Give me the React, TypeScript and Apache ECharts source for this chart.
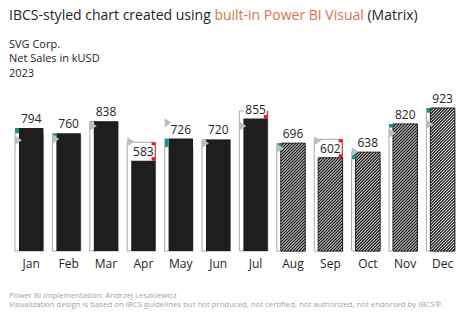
import React, { useEffect, useRef } from "react";
import * as echarts from "echarts";

const months = ["Jan", "Feb", "Mar", "Apr", "May", "Jun", "Jul", "Aug", "Sep", "Oct", "Nov", "Dec"];
const actualOrForecast = [794, 760, 838, 583, 726, 720, 855, 696, 602, 638, 820, 923];
const previousYear = [762, 745, 835, 702, 673, 718, 904, 673, 721, 594, 799, 895];
const budget = [715, 723, 807, 705, 828, 695, 807, 663, 712, 641, 760, 818];
const scenario = ["AC", "AC", "AC", "AC", "AC", "AC", "AC", "FC", "FC", "FC", "FC", "FC"];

const titleParts = ["IBCS-styled chart created using ", "built-in Power BI Visual", " (Matrix)"];
const subtitleLines = ["SVG Corp.", "Net Sales in kUSD", "2023"];
const footerLines = [
  "Power BI implementation: Andrzej Leszkiewicz",
  "Visualization design is based on IBCS guidelines but not produced, not certified, not authorized, not endorsed by IBCS\u00AE",
];

const FONT = "'Segoe UI', 'Open Sans', 'Noto Sans', sans-serif";
const DARK = "#252423";
const BAR = "#1e1e1e";
const TEAL = "#18918a";
const RED = "#e8141a";
const PY_STROKE = "#a9a9a9";
const TRI = "#b8bdc0";

export default function App() {
  const ref = useRef<HTMLDivElement>(null);

  useEffect(() => {
    if (!ref.current) return;
    const chart = echarts.init(ref.current, null, { renderer: "svg" });

    const data = months.map((m, i) => [
      i,
      actualOrForecast[i],
      previousYear[i],
      budget[i],
      scenario[i] === "FC" ? 1 : 0,
    ]);

    const renderItem = (params: any, api: any) => {
      const i = api.value(0);
      const ac = api.value(1);
      const py = api.value(2);
      const bu = api.value(3);
      const fc = api.value(4) === 1;
      const [cx, yAc] = api.coord([i, ac]);
      const y0 = api.coord([i, 0])[1];
      const yPy = api.coord([i, py])[1];
      const yBu = api.coord([i, bu])[1];
      const half = 12.2;
      const strip = 4;
      const children: any[] = [];

      children.push({
        type: "rect",
        shape: { x: cx - half - strip, y: yPy, width: 2 * half + strip, height: y0 - yPy },
        style: { fill: "#ffffff", stroke: PY_STROKE, lineWidth: 1 },
      });

      const ax0 = cx - half;
      const ax1 = cx + half;
      if (!fc) {
        children.push({
          type: "rect",
          shape: { x: ax0, y: yAc, width: ax1 - ax0, height: y0 - yAc },
          style: { fill: BAR },
        });
      } else {
        children.push({
          type: "rect",
          shape: { x: ax0, y: yAc, width: ax1 - ax0, height: y0 - yAc },
          style: { fill: "#ffffff" },
        });
        const step = 3;
        for (let k = ax0 + yAc; k <= ax1 + y0; k += step) {
          const xa = Math.max(ax0, k - y0);
          const xb = Math.min(ax1, k - yAc);
          if (xb - xa > 0.2) {
            children.push({
              type: "line",
              shape: { x1: xa, y1: k - xa, x2: xb, y2: k - xb },
              style: { stroke: BAR, lineWidth: 1.4 },
            });
          }
        }
        children.push({
          type: "rect",
          shape: { x: ax0, y: yAc, width: ax1 - ax0, height: y0 - yAc },
          style: { fill: "none", stroke: BAR, lineWidth: 1 },
        });
      }

      if (ac >= py) {
        children.push({
          type: "rect",
          shape: { x: cx - half - strip, y: yAc, width: strip, height: yPy - yAc },
          style: { fill: TEAL },
        });
      } else {
        children.push({
          type: "rect",
          shape: { x: cx + half - strip, y: yPy, width: strip, height: yAc - yPy },
          style: { fill: RED },
        });
      }

      const tx = cx - half - strip;
      children.push({
        type: "polygon",
        shape: { points: [[tx, yBu - 4.5], [tx + 7, yBu], [tx, yBu + 4.5]] },
        style: { fill: TRI },
      });

      children.push({
        type: "text",
        x: cx,
        y: yAc - 9.5,
        style: {
          text: String(ac),
          fill: DARK,
          font: `12px ${FONT}`,
          align: "center",
          verticalAlign: "middle",
          backgroundColor: "#ffffff",
          padding: [0, 1],
        },
      });

      return { type: "group", children };
    };

    const graphics: any[] = [
      {
        type: "text",
        left: 9,
        top: 7,
        style: {
          text: `{a|${titleParts[0]}}{b|${titleParts[1]}}{a|${titleParts[2]}}`,
          rich: {
            a: { fontFamily: FONT, fontSize: 14, fontWeight: "normal", fill: DARK },
            b: { fontFamily: FONT, fontSize: 14, fontWeight: "normal", fill: "#e0704f" },
          },
        },
      },
      ...subtitleLines.map((t, k) => ({
        type: "text",
        x: 9,
        y: 43 + k * 14.8,
        style: { text: t, fill: DARK, font: `11px ${FONT}`, verticalAlign: "middle", lineHeight: 13 },
      })),
      ...footerLines.map((t, k) => ({
        type: "text",
        x: 9,
        y: 294.7 + k * 9.4,
        style: { text: t, fill: "#a3a3a3", font: `7.8px ${FONT}`, verticalAlign: "middle", lineHeight: 9 },
      })),
    ];

    chart.setOption({
      animation: false,
      graphic: graphics,
      grid: { left: 12.5, right: 12.7, top: 96.1, bottom: 72, containLabel: false },
      xAxis: {
        type: "category",
        data: months,
        axisLine: { show: false },
        axisTick: { show: false },
        axisLabel: { color: DARK, fontSize: 12, fontFamily: FONT, margin: 6 },
        splitLine: { show: false },
      },
      yAxis: {
        type: "value",
        min: 0,
        max: 1000,
        show: false,
        splitLine: { show: false },
      },
      series: [
        {
          type: "custom",
          renderItem,
          data,
          clip: false,
          encode: { x: 0, y: 1 },
        },
      ],
    });

    return () => chart.dispose();
  }, []);

  return (
    <div
      ref={ref}
      style={{ position: "fixed", left: 0, top: 0, width: 474, height: 323, background: "#ffffff" }}
    />
  );
}
